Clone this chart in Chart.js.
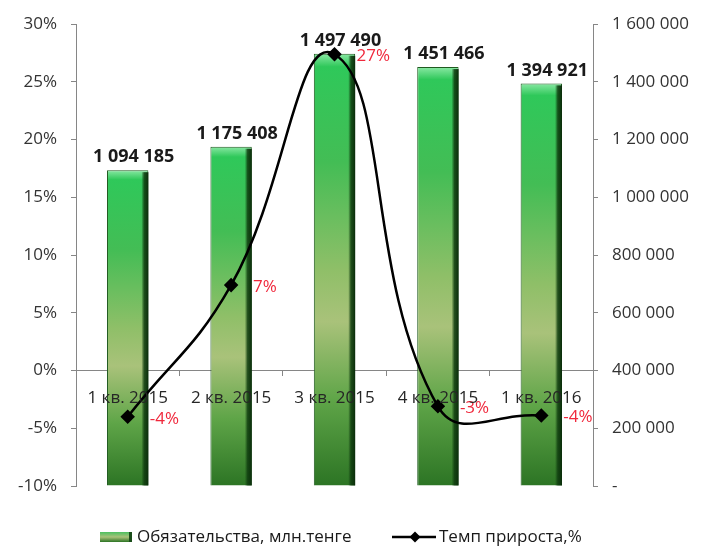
<!DOCTYPE html>
<html>
<head>
<meta charset="utf-8">
<script src="https://cdn.jsdelivr.net/npm/chart.js@4/dist/chart.umd.min.js"></script>
<style>
  html, body { margin: 0; padding: 0; background: #ffffff; }
  #wrap { width: 701px; height: 546px; position: relative; }
</style>
</head>
<body>
<div id="wrap"><canvas id="c"></canvas></div>
<script>
const categories = ['1 кв. 2015', '2 кв. 2015', '3 кв. 2015', '4 кв. 2015', '1 кв. 2016'];
const liabilities = [1094185, 1175408, 1497490, 1451466, 1394921];
const growth = [-4.0, 7.4, 27.4, -3.1, -3.9];
const seriesNames = ['Обязательства, млн.тенге', 'Темп прироста,%'];

const FONT = "'Open Sans', 'DejaVu Sans', sans-serif";
const fmtSpace = n => Math.round(n).toString().replace(/\B(?=(\d{3})+(?!\d))/g, ' ');

function barGradient(ctx, top, bottom) {
  const g = ctx.createLinearGradient(0, top, 0, bottom);
  g.addColorStop(0, '#8ae8a4');
  g.addColorStop(0.03, '#2fc85a');
  g.addColorStop(0.25, '#43bd55');
  g.addColorStop(0.5, '#8fbf68');
  g.addColorStop(0.62, '#a9c27a');
  g.addColorStop(0.8, '#5fa548');
  g.addColorStop(1, '#2c7424');
  return g;
}

const labelsPlugin = {
  id: 'customLabels',
  afterDatasetDraw(chart, args) {
    const ctx = chart.ctx;
    if (args.index === 0) {
      const meta = chart.getDatasetMeta(0);
      ctx.save();
      meta.data.forEach(el => {
        const w = el.width;
        const x1 = el.x + w / 2;
        const g = ctx.createLinearGradient(x1 - 7, 0, x1, 0);
        g.addColorStop(0, 'rgba(15,60,15,0.0)');
        g.addColorStop(0.4, 'rgba(15,60,15,0.85)');
        g.addColorStop(1, 'rgba(10,45,10,1)');
        ctx.fillStyle = g;
        ctx.fillRect(x1 - 7, el.y + 2, 7, el.base - el.y - 2);
      });
      ctx.restore();
    }
  },
  afterDatasetsDraw(chart) {
    const ctx = chart.ctx;
    ctx.save();
    const barMeta = chart.getDatasetMeta(0);
    ctx.font = 'bold 18px ' + FONT;
    ctx.fillStyle = '#1a1a1a';
    ctx.textAlign = 'center';
    ctx.textBaseline = 'bottom';
    barMeta.data.forEach((el, i) => {
      ctx.fillText(fmtSpace(liabilities[i]), el.x + 6, el.y - 4);
    });
    const lineMeta = chart.getDatasetMeta(1);
    ctx.font = '17px ' + FONT;
    ctx.fillStyle = '#f0283c';
    ctx.textAlign = 'left';
    ctx.textBaseline = 'middle';
    lineMeta.data.forEach((el, i) => {
      ctx.fillText(Math.round(growth[i]) + '%', el.x + 22, el.y + 2);
    });
    ctx.restore();
  },
  afterDraw(chart) {
    const ctx = chart.ctx;
    const y = chart.chartArea.bottom + 51;
    ctx.save();
    const g = ctx.createLinearGradient(0, y - 5, 0, y + 5);
    g.addColorStop(0, '#4cc060');
    g.addColorStop(0.5, '#a9c27a');
    g.addColorStop(1, '#2c7424');
    ctx.fillStyle = g;
    ctx.fillRect(100, y - 5, 31, 10);
    ctx.fillStyle = '#1a4d1a';
    ctx.fillRect(129, y - 5, 3, 10);
    ctx.font = '17px ' + FONT;
    ctx.fillStyle = '#1a1a1a';
    ctx.textAlign = 'left';
    ctx.textBaseline = 'middle';
    ctx.fillText(seriesNames[0], 137, y);
    ctx.strokeStyle = '#000';
    ctx.lineWidth = 2.5;
    ctx.beginPath();
    ctx.moveTo(392, y);
    ctx.lineTo(436, y);
    ctx.stroke();
    ctx.fillStyle = '#000';
    ctx.beginPath();
    ctx.moveTo(415, y - 5.5);
    ctx.lineTo(420.5, y);
    ctx.lineTo(415, y + 5.5);
    ctx.lineTo(409.5, y);
    ctx.closePath();
    ctx.fill();
    ctx.fillStyle = '#1a1a1a';
    ctx.fillText(seriesNames[1], 439, y);
    ctx.restore();
  }
};

new Chart(document.getElementById('c'), {
  data: {
    labels: categories,
    datasets: [
      {
        type: 'bar',
        label: seriesNames[0],
        data: liabilities,
        yAxisID: 'y1',
        order: 2,
        categoryPercentage: 1,
        barPercentage: 0.4,
        borderColor: '#1f5a1f',
        borderWidth: 1,
        backgroundColor: (c) => {
          const chart = c.chart;
          if (!chart.chartArea || c.raw === undefined) return '#43bd55';
          const yS = chart.scales.y1;
          const top = yS.getPixelForValue(c.raw);
          const bottom = yS.getPixelForValue(0);
          return barGradient(chart.ctx, top, bottom);
        }
      },
      {
        type: 'line',
        label: seriesNames[1],
        data: growth,
        yAxisID: 'y',
        order: 1,
        borderColor: '#000000',
        borderWidth: 2.5,
        tension: 0.45,
        pointStyle: 'rectRot',
        pointRadius: 5.5,
        pointBackgroundColor: '#000000',
        pointBorderColor: '#000000',
        fill: false
      }
    ]
  },
  options: {
    responsive: true,
    maintainAspectRatio: false,
    animation: false,
    layout: { padding: { top: 14, bottom: 60, left: 0, right: 0 } },
    plugins: {
      legend: { display: false },
      tooltip: { enabled: false }
    },
    scales: {
      x: {
        type: 'category',
        position: { y: 0 },
        offset: true,
        afterFit: (s) => { s.height = 0; },
        grid: { drawOnChartArea: false, offset: true, tickLength: 5, color: '#868686', z: -1 },
        border: { display: true, color: '#868686', width: 1, z: -1 },
        ticks: { z: 1, color: '#262626', font: { family: FONT, size: 17 }, padding: 12, maxRotation: 0, autoSkip: false }
      },
      y: {
        position: 'left',
        min: -10,
        max: 30,
        afterFit: (s) => { s.width = 76; },
        ticks: { stepSize: 5, color: '#333333', font: { family: FONT, size: 17 }, padding: 14, callback: v => v + '%' },
        grid: { drawOnChartArea: false, tickLength: 5, color: '#868686' },
        border: { display: true, color: '#868686', width: 1 }
      },
      y1: {
        position: 'right',
        min: 0,
        max: 1600000,
        afterFit: (s) => { s.width = 108; },
        ticks: { stepSize: 200000, color: '#333333', font: { family: FONT, size: 17 }, padding: 14, callback: v => v === 0 ? '-' : fmtSpace(v) },
        grid: { drawOnChartArea: false, tickLength: 5, color: '#868686' },
        border: { display: true, color: '#868686', width: 1 }
      }
    }
  },
  plugins: [labelsPlugin]
});
</script>
</body>
</html>
